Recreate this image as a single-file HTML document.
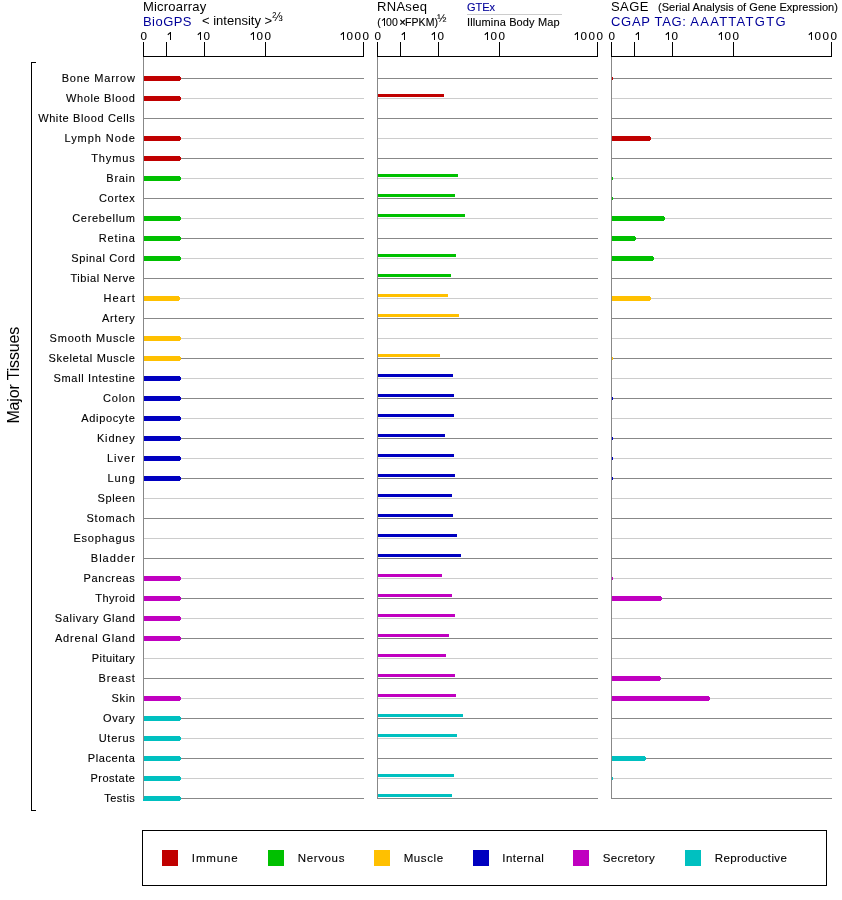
<!DOCTYPE html>
<html><head><meta charset="utf-8"><style>
html,body{margin:0;padding:0;background:#fff;}
body{width:842px;height:900px;overflow:hidden;position:relative;}
svg{position:absolute;left:0;top:0;will-change:transform;}
text{font-family:"Liberation Sans",sans-serif;}
text.s{stroke:currentColor;stroke-width:0.12px;}
</style></head><body>
<svg width="842" height="900" viewBox="0 0 842 900">
<g shape-rendering="crispEdges">
<rect x="143" y="78" width="221" height="1" fill="#888888"/>
<rect x="143" y="98" width="221" height="1" fill="#cccccc"/>
<rect x="143" y="118" width="221" height="1" fill="#888888"/>
<rect x="143" y="138" width="221" height="1" fill="#cccccc"/>
<rect x="143" y="158" width="221" height="1" fill="#888888"/>
<rect x="143" y="178" width="221" height="1" fill="#cccccc"/>
<rect x="143" y="198" width="221" height="1" fill="#888888"/>
<rect x="143" y="218" width="221" height="1" fill="#cccccc"/>
<rect x="143" y="238" width="221" height="1" fill="#888888"/>
<rect x="143" y="258" width="221" height="1" fill="#cccccc"/>
<rect x="143" y="278" width="221" height="1" fill="#888888"/>
<rect x="143" y="298" width="221" height="1" fill="#cccccc"/>
<rect x="143" y="318" width="221" height="1" fill="#888888"/>
<rect x="143" y="338" width="221" height="1" fill="#cccccc"/>
<rect x="143" y="358" width="221" height="1" fill="#888888"/>
<rect x="143" y="378" width="221" height="1" fill="#cccccc"/>
<rect x="143" y="398" width="221" height="1" fill="#888888"/>
<rect x="143" y="418" width="221" height="1" fill="#cccccc"/>
<rect x="143" y="438" width="221" height="1" fill="#888888"/>
<rect x="143" y="458" width="221" height="1" fill="#cccccc"/>
<rect x="143" y="478" width="221" height="1" fill="#888888"/>
<rect x="143" y="498" width="221" height="1" fill="#cccccc"/>
<rect x="143" y="518" width="221" height="1" fill="#888888"/>
<rect x="143" y="538" width="221" height="1" fill="#cccccc"/>
<rect x="143" y="558" width="221" height="1" fill="#888888"/>
<rect x="143" y="578" width="221" height="1" fill="#cccccc"/>
<rect x="143" y="598" width="221" height="1" fill="#888888"/>
<rect x="143" y="618" width="221" height="1" fill="#cccccc"/>
<rect x="143" y="638" width="221" height="1" fill="#888888"/>
<rect x="143" y="658" width="221" height="1" fill="#cccccc"/>
<rect x="143" y="678" width="221" height="1" fill="#888888"/>
<rect x="143" y="698" width="221" height="1" fill="#cccccc"/>
<rect x="143" y="718" width="221" height="1" fill="#888888"/>
<rect x="143" y="738" width="221" height="1" fill="#cccccc"/>
<rect x="143" y="758" width="221" height="1" fill="#888888"/>
<rect x="143" y="778" width="221" height="1" fill="#cccccc"/>
<rect x="143" y="798" width="221" height="1" fill="#888888"/>
<rect x="143" y="56" width="221" height="1" fill="#000"/>
<rect x="143" y="42" width="1" height="14" fill="#000"/>
<rect x="166" y="42" width="1" height="14" fill="#000"/>
<rect x="204" y="42" width="1" height="14" fill="#000"/>
<rect x="265" y="42" width="1" height="14" fill="#000"/>
<rect x="363" y="42" width="1" height="14" fill="#000"/>
<rect x="377" y="78" width="221" height="1" fill="#888888"/>
<rect x="377" y="98" width="221" height="1" fill="#cccccc"/>
<rect x="377" y="118" width="221" height="1" fill="#888888"/>
<rect x="377" y="138" width="221" height="1" fill="#cccccc"/>
<rect x="377" y="158" width="221" height="1" fill="#888888"/>
<rect x="377" y="178" width="221" height="1" fill="#cccccc"/>
<rect x="377" y="198" width="221" height="1" fill="#888888"/>
<rect x="377" y="218" width="221" height="1" fill="#cccccc"/>
<rect x="377" y="238" width="221" height="1" fill="#888888"/>
<rect x="377" y="258" width="221" height="1" fill="#cccccc"/>
<rect x="377" y="278" width="221" height="1" fill="#888888"/>
<rect x="377" y="298" width="221" height="1" fill="#cccccc"/>
<rect x="377" y="318" width="221" height="1" fill="#888888"/>
<rect x="377" y="338" width="221" height="1" fill="#cccccc"/>
<rect x="377" y="358" width="221" height="1" fill="#888888"/>
<rect x="377" y="378" width="221" height="1" fill="#cccccc"/>
<rect x="377" y="398" width="221" height="1" fill="#888888"/>
<rect x="377" y="418" width="221" height="1" fill="#cccccc"/>
<rect x="377" y="438" width="221" height="1" fill="#888888"/>
<rect x="377" y="458" width="221" height="1" fill="#cccccc"/>
<rect x="377" y="478" width="221" height="1" fill="#888888"/>
<rect x="377" y="498" width="221" height="1" fill="#cccccc"/>
<rect x="377" y="518" width="221" height="1" fill="#888888"/>
<rect x="377" y="538" width="221" height="1" fill="#cccccc"/>
<rect x="377" y="558" width="221" height="1" fill="#888888"/>
<rect x="377" y="578" width="221" height="1" fill="#cccccc"/>
<rect x="377" y="598" width="221" height="1" fill="#888888"/>
<rect x="377" y="618" width="221" height="1" fill="#cccccc"/>
<rect x="377" y="638" width="221" height="1" fill="#888888"/>
<rect x="377" y="658" width="221" height="1" fill="#cccccc"/>
<rect x="377" y="678" width="221" height="1" fill="#888888"/>
<rect x="377" y="698" width="221" height="1" fill="#cccccc"/>
<rect x="377" y="718" width="221" height="1" fill="#888888"/>
<rect x="377" y="738" width="221" height="1" fill="#cccccc"/>
<rect x="377" y="758" width="221" height="1" fill="#888888"/>
<rect x="377" y="778" width="221" height="1" fill="#cccccc"/>
<rect x="377" y="798" width="221" height="1" fill="#888888"/>
<rect x="377" y="56" width="221" height="1" fill="#000"/>
<rect x="377" y="42" width="1" height="14" fill="#000"/>
<rect x="400" y="42" width="1" height="14" fill="#000"/>
<rect x="438" y="42" width="1" height="14" fill="#000"/>
<rect x="499" y="42" width="1" height="14" fill="#000"/>
<rect x="597" y="42" width="1" height="14" fill="#000"/>
<rect x="611" y="78" width="221" height="1" fill="#888888"/>
<rect x="611" y="98" width="221" height="1" fill="#cccccc"/>
<rect x="611" y="118" width="221" height="1" fill="#888888"/>
<rect x="611" y="138" width="221" height="1" fill="#cccccc"/>
<rect x="611" y="158" width="221" height="1" fill="#888888"/>
<rect x="611" y="178" width="221" height="1" fill="#cccccc"/>
<rect x="611" y="198" width="221" height="1" fill="#888888"/>
<rect x="611" y="218" width="221" height="1" fill="#cccccc"/>
<rect x="611" y="238" width="221" height="1" fill="#888888"/>
<rect x="611" y="258" width="221" height="1" fill="#cccccc"/>
<rect x="611" y="278" width="221" height="1" fill="#888888"/>
<rect x="611" y="298" width="221" height="1" fill="#cccccc"/>
<rect x="611" y="318" width="221" height="1" fill="#888888"/>
<rect x="611" y="338" width="221" height="1" fill="#cccccc"/>
<rect x="611" y="358" width="221" height="1" fill="#888888"/>
<rect x="611" y="378" width="221" height="1" fill="#cccccc"/>
<rect x="611" y="398" width="221" height="1" fill="#888888"/>
<rect x="611" y="418" width="221" height="1" fill="#cccccc"/>
<rect x="611" y="438" width="221" height="1" fill="#888888"/>
<rect x="611" y="458" width="221" height="1" fill="#cccccc"/>
<rect x="611" y="478" width="221" height="1" fill="#888888"/>
<rect x="611" y="498" width="221" height="1" fill="#cccccc"/>
<rect x="611" y="518" width="221" height="1" fill="#888888"/>
<rect x="611" y="538" width="221" height="1" fill="#cccccc"/>
<rect x="611" y="558" width="221" height="1" fill="#888888"/>
<rect x="611" y="578" width="221" height="1" fill="#cccccc"/>
<rect x="611" y="598" width="221" height="1" fill="#888888"/>
<rect x="611" y="618" width="221" height="1" fill="#cccccc"/>
<rect x="611" y="638" width="221" height="1" fill="#888888"/>
<rect x="611" y="658" width="221" height="1" fill="#cccccc"/>
<rect x="611" y="678" width="221" height="1" fill="#888888"/>
<rect x="611" y="698" width="221" height="1" fill="#cccccc"/>
<rect x="611" y="718" width="221" height="1" fill="#888888"/>
<rect x="611" y="738" width="221" height="1" fill="#cccccc"/>
<rect x="611" y="758" width="221" height="1" fill="#888888"/>
<rect x="611" y="778" width="221" height="1" fill="#cccccc"/>
<rect x="611" y="798" width="221" height="1" fill="#888888"/>
<rect x="611" y="56" width="221" height="1" fill="#000"/>
<rect x="611" y="42" width="1" height="14" fill="#000"/>
<rect x="634" y="42" width="1" height="14" fill="#000"/>
<rect x="672" y="42" width="1" height="14" fill="#000"/>
<rect x="733" y="42" width="1" height="14" fill="#000"/>
<rect x="831" y="42" width="1" height="14" fill="#000"/>
<rect x="143" y="76" width="37" height="5" fill="#C00000"/>
<rect x="180" y="77" width="1" height="3" fill="#C00000"/>
<rect x="143" y="96" width="37" height="5" fill="#C00000"/>
<rect x="180" y="97" width="1" height="3" fill="#C00000"/>
<rect x="143" y="136" width="37" height="5" fill="#C00000"/>
<rect x="180" y="137" width="1" height="3" fill="#C00000"/>
<rect x="143" y="156" width="37" height="5" fill="#C00000"/>
<rect x="180" y="157" width="1" height="3" fill="#C00000"/>
<rect x="143" y="176" width="37" height="5" fill="#00C000"/>
<rect x="180" y="177" width="1" height="3" fill="#00C000"/>
<rect x="143" y="216" width="37" height="5" fill="#00C000"/>
<rect x="180" y="217" width="1" height="3" fill="#00C000"/>
<rect x="143" y="236" width="37" height="5" fill="#00C000"/>
<rect x="180" y="237" width="1" height="3" fill="#00C000"/>
<rect x="143" y="256" width="37" height="5" fill="#00C000"/>
<rect x="180" y="257" width="1" height="3" fill="#00C000"/>
<rect x="143" y="296" width="36" height="5" fill="#FFC000"/>
<rect x="179" y="297" width="1" height="3" fill="#FFC000"/>
<rect x="143" y="336" width="37" height="5" fill="#FFC000"/>
<rect x="180" y="337" width="1" height="3" fill="#FFC000"/>
<rect x="143" y="356" width="37" height="5" fill="#FFC000"/>
<rect x="180" y="357" width="1" height="3" fill="#FFC000"/>
<rect x="143" y="376" width="37" height="5" fill="#0000C0"/>
<rect x="180" y="377" width="1" height="3" fill="#0000C0"/>
<rect x="143" y="396" width="37" height="5" fill="#0000C0"/>
<rect x="180" y="397" width="1" height="3" fill="#0000C0"/>
<rect x="143" y="416" width="37" height="5" fill="#0000C0"/>
<rect x="180" y="417" width="1" height="3" fill="#0000C0"/>
<rect x="143" y="436" width="37" height="5" fill="#0000C0"/>
<rect x="180" y="437" width="1" height="3" fill="#0000C0"/>
<rect x="143" y="456" width="37" height="5" fill="#0000C0"/>
<rect x="180" y="457" width="1" height="3" fill="#0000C0"/>
<rect x="143" y="476" width="37" height="5" fill="#0000C0"/>
<rect x="180" y="477" width="1" height="3" fill="#0000C0"/>
<rect x="143" y="576" width="37" height="5" fill="#C000C0"/>
<rect x="180" y="577" width="1" height="3" fill="#C000C0"/>
<rect x="143" y="596" width="37" height="5" fill="#C000C0"/>
<rect x="180" y="597" width="1" height="3" fill="#C000C0"/>
<rect x="143" y="616" width="37" height="5" fill="#C000C0"/>
<rect x="180" y="617" width="1" height="3" fill="#C000C0"/>
<rect x="143" y="636" width="37" height="5" fill="#C000C0"/>
<rect x="180" y="637" width="1" height="3" fill="#C000C0"/>
<rect x="143" y="696" width="37" height="5" fill="#C000C0"/>
<rect x="180" y="697" width="1" height="3" fill="#C000C0"/>
<rect x="143" y="716" width="37" height="5" fill="#00C0C0"/>
<rect x="180" y="717" width="1" height="3" fill="#00C0C0"/>
<rect x="143" y="736" width="37" height="5" fill="#00C0C0"/>
<rect x="180" y="737" width="1" height="3" fill="#00C0C0"/>
<rect x="143" y="756" width="37" height="5" fill="#00C0C0"/>
<rect x="180" y="757" width="1" height="3" fill="#00C0C0"/>
<rect x="143" y="776" width="37" height="5" fill="#00C0C0"/>
<rect x="180" y="777" width="1" height="3" fill="#00C0C0"/>
<rect x="143" y="796" width="37" height="5" fill="#00C0C0"/>
<rect x="180" y="797" width="1" height="3" fill="#00C0C0"/>
<rect x="377" y="94" width="67" height="3" fill="#C00000"/>
<rect x="377" y="174" width="81" height="3" fill="#00C000"/>
<rect x="377" y="194" width="78" height="3" fill="#00C000"/>
<rect x="377" y="214" width="88" height="3" fill="#00C000"/>
<rect x="377" y="254" width="79" height="3" fill="#00C000"/>
<rect x="377" y="274" width="74" height="3" fill="#00C000"/>
<rect x="377" y="294" width="71" height="3" fill="#FFC000"/>
<rect x="377" y="314" width="82" height="3" fill="#FFC000"/>
<rect x="377" y="354" width="63" height="3" fill="#FFC000"/>
<rect x="377" y="374" width="76" height="3" fill="#0000C0"/>
<rect x="377" y="394" width="77" height="3" fill="#0000C0"/>
<rect x="377" y="414" width="77" height="3" fill="#0000C0"/>
<rect x="377" y="434" width="68" height="3" fill="#0000C0"/>
<rect x="377" y="454" width="77" height="3" fill="#0000C0"/>
<rect x="377" y="474" width="78" height="3" fill="#0000C0"/>
<rect x="377" y="494" width="75" height="3" fill="#0000C0"/>
<rect x="377" y="514" width="76" height="3" fill="#0000C0"/>
<rect x="377" y="534" width="80" height="3" fill="#0000C0"/>
<rect x="377" y="554" width="84" height="3" fill="#0000C0"/>
<rect x="377" y="574" width="65" height="3" fill="#C000C0"/>
<rect x="377" y="594" width="75" height="3" fill="#C000C0"/>
<rect x="377" y="614" width="78" height="3" fill="#C000C0"/>
<rect x="377" y="634" width="72" height="3" fill="#C000C0"/>
<rect x="377" y="654" width="69" height="3" fill="#C000C0"/>
<rect x="377" y="674" width="78" height="3" fill="#C000C0"/>
<rect x="377" y="694" width="79" height="3" fill="#C000C0"/>
<rect x="377" y="714" width="86" height="3" fill="#00C0C0"/>
<rect x="377" y="734" width="80" height="3" fill="#00C0C0"/>
<rect x="377" y="774" width="77" height="3" fill="#00C0C0"/>
<rect x="377" y="794" width="75" height="3" fill="#00C0C0"/>
<rect x="612" y="77" width="1" height="3" fill="#C00000"/>
<rect x="611" y="136" width="39" height="5" fill="#C00000"/>
<rect x="650" y="137" width="1" height="3" fill="#C00000"/>
<rect x="612" y="177" width="1" height="3" fill="#00C000"/>
<rect x="612" y="197" width="1" height="3" fill="#00C000"/>
<rect x="611" y="216" width="53" height="5" fill="#00C000"/>
<rect x="664" y="217" width="1" height="3" fill="#00C000"/>
<rect x="611" y="236" width="24" height="5" fill="#00C000"/>
<rect x="635" y="237" width="1" height="3" fill="#00C000"/>
<rect x="611" y="256" width="42" height="5" fill="#00C000"/>
<rect x="653" y="257" width="1" height="3" fill="#00C000"/>
<rect x="611" y="296" width="39" height="5" fill="#FFC000"/>
<rect x="650" y="297" width="1" height="3" fill="#FFC000"/>
<rect x="612" y="357" width="1" height="3" fill="#FFC000"/>
<rect x="612" y="397" width="1" height="3" fill="#0000C0"/>
<rect x="612" y="437" width="1" height="3" fill="#0000C0"/>
<rect x="612" y="457" width="1" height="3" fill="#0000C0"/>
<rect x="612" y="477" width="1" height="3" fill="#0000C0"/>
<rect x="612" y="577" width="1" height="3" fill="#C000C0"/>
<rect x="611" y="596" width="50" height="5" fill="#C000C0"/>
<rect x="661" y="597" width="1" height="3" fill="#C000C0"/>
<rect x="611" y="676" width="49" height="5" fill="#C000C0"/>
<rect x="660" y="677" width="1" height="3" fill="#C000C0"/>
<rect x="611" y="696" width="98" height="5" fill="#C000C0"/>
<rect x="709" y="697" width="1" height="3" fill="#C000C0"/>
<rect x="611" y="756" width="34" height="5" fill="#00C0C0"/>
<rect x="645" y="757" width="1" height="3" fill="#00C0C0"/>
<rect x="612" y="777" width="1" height="3" fill="#00C0C0"/>
<rect x="143" y="57" width="1" height="742" fill="#888888"/>
<rect x="377" y="57" width="1" height="742" fill="#888888"/>
<rect x="611" y="57" width="1" height="742" fill="#888888"/>
<rect x="31" y="62" width="1" height="749" fill="#000"/>
<rect x="31" y="62" width="5" height="1" fill="#000"/>
<rect x="31" y="810" width="5" height="1" fill="#000"/>
<rect x="142.5" y="830.5" width="684" height="55" fill="none" stroke="#000" stroke-width="1"/>
<rect x="162" y="850" width="16" height="16" fill="#C00000"/>
<rect x="268" y="850" width="16" height="16" fill="#00C000"/>
<rect x="374" y="850" width="16" height="16" fill="#FFC000"/>
<rect x="473" y="850" width="16" height="16" fill="#0000C0"/>
<rect x="573" y="850" width="16" height="16" fill="#C000C0"/>
<rect x="685" y="850" width="16" height="16" fill="#00C0C0"/>
<rect x="467" y="14" width="95" height="1" fill="#cccccc"/>
<rect x="384" y="18" width="1" height="8" fill="#000"/>
<rect x="170" y="32" width="1" height="8" fill="#000"/>
<rect x="200" y="32" width="1" height="8" fill="#000"/>
<rect x="253" y="32" width="1" height="8" fill="#000"/>
<rect x="343" y="32" width="1" height="8" fill="#000"/>
<rect x="404" y="32" width="1" height="8" fill="#000"/>
<rect x="434" y="32" width="1" height="8" fill="#000"/>
<rect x="487" y="32" width="1" height="8" fill="#000"/>
<rect x="577" y="32" width="1" height="8" fill="#000"/>
<rect x="638" y="32" width="1" height="8" fill="#000"/>
<rect x="668" y="32" width="1" height="8" fill="#000"/>
<rect x="721" y="32" width="1" height="8" fill="#000"/>
<rect x="811" y="32" width="1" height="8" fill="#000"/>
</g>
<g>
<path d="M384.6,18.4 L382.0,20.6" stroke="#000" stroke-width="1.05" fill="none"/>
<path d="M170.6,32.4 L167.8,34.7" stroke="#000" stroke-width="1.1" fill="none"/>
<path d="M200.6,32.4 L197.8,34.7" stroke="#000" stroke-width="1.1" fill="none"/>
<path d="M253.6,32.4 L250.8,34.7" stroke="#000" stroke-width="1.1" fill="none"/>
<path d="M343.6,32.4 L340.8,34.7" stroke="#000" stroke-width="1.1" fill="none"/>
<path d="M404.6,32.4 L401.8,34.7" stroke="#000" stroke-width="1.1" fill="none"/>
<path d="M434.6,32.4 L431.8,34.7" stroke="#000" stroke-width="1.1" fill="none"/>
<path d="M487.6,32.4 L484.8,34.7" stroke="#000" stroke-width="1.1" fill="none"/>
<path d="M577.6,32.4 L574.8,34.7" stroke="#000" stroke-width="1.1" fill="none"/>
<path d="M638.6,32.4 L635.8,34.7" stroke="#000" stroke-width="1.1" fill="none"/>
<path d="M668.6,32.4 L665.8,34.7" stroke="#000" stroke-width="1.1" fill="none"/>
<path d="M721.6,32.4 L718.8,34.7" stroke="#000" stroke-width="1.1" fill="none"/>
<path d="M811.6,32.4 L808.8,34.7" stroke="#000" stroke-width="1.1" fill="none"/>
</g>
<g>
<text class="s" x="135.62" y="82" font-size="11" fill="#000" color="#000" text-anchor="end" letter-spacing="0.77" >Bone Marrow</text>
<text class="s" x="135.503" y="102" font-size="11" fill="#000" color="#000" text-anchor="end" letter-spacing="0.653" >Whole Blood</text>
<text class="s" x="135.468" y="122" font-size="11" fill="#000" color="#000" text-anchor="end" letter-spacing="0.618" >White Blood Cells</text>
<text class="s" x="135.773" y="142" font-size="11" fill="#000" color="#000" text-anchor="end" letter-spacing="0.923" >Lymph Node</text>
<text class="s" x="135.761" y="162" font-size="11" fill="#000" color="#000" text-anchor="end" letter-spacing="0.911" >Thymus</text>
<text class="s" x="135.553" y="182" font-size="11" fill="#000" color="#000" text-anchor="end" letter-spacing="0.703" >Brain</text>
<text class="s" x="135.549" y="202" font-size="11" fill="#000" color="#000" text-anchor="end" letter-spacing="0.699" >Cortex</text>
<text class="s" x="135.564" y="222" font-size="11" fill="#000" color="#000" text-anchor="end" letter-spacing="0.714" >Cerebellum</text>
<text class="s" x="135.722" y="242" font-size="11" fill="#000" color="#000" text-anchor="end" letter-spacing="0.872" >Retina</text>
<text class="s" x="135.453" y="262" font-size="11" fill="#000" color="#000" text-anchor="end" letter-spacing="0.603" >Spinal Cord</text>
<text class="s" x="135.41" y="282" font-size="11" fill="#000" color="#000" text-anchor="end" letter-spacing="0.56" >Tibial Nerve</text>
<text class="s" x="135.967" y="302" font-size="11" fill="#000" color="#000" text-anchor="end" letter-spacing="1.117" >Heart</text>
<text class="s" x="135.566" y="322" font-size="11" fill="#000" color="#000" text-anchor="end" letter-spacing="0.716" >Artery</text>
<text class="s" x="135.641" y="342" font-size="11" fill="#000" color="#000" text-anchor="end" letter-spacing="0.791" >Smooth Muscle</text>
<text class="s" x="135.516" y="362" font-size="11" fill="#000" color="#000" text-anchor="end" letter-spacing="0.666" >Skeletal Muscle</text>
<text class="s" x="135.502" y="382" font-size="11" fill="#000" color="#000" text-anchor="end" letter-spacing="0.652" >Small Intestine</text>
<text class="s" x="135.598" y="402" font-size="11" fill="#000" color="#000" text-anchor="end" letter-spacing="0.748" >Colon</text>
<text class="s" x="135.496" y="422" font-size="11" fill="#000" color="#000" text-anchor="end" letter-spacing="0.646" >Adipocyte</text>
<text class="s" x="135.711" y="442" font-size="11" fill="#000" color="#000" text-anchor="end" letter-spacing="0.861" >Kidney</text>
<text class="s" x="135.875" y="462" font-size="11" fill="#000" color="#000" text-anchor="end" letter-spacing="1.025" >Liver</text>
<text class="s" x="135.845" y="482" font-size="11" fill="#000" color="#000" text-anchor="end" letter-spacing="0.995" >Lung</text>
<text class="s" x="135.46" y="502" font-size="11" fill="#000" color="#000" text-anchor="end" letter-spacing="0.61" >Spleen</text>
<text class="s" x="135.678" y="522" font-size="11" fill="#000" color="#000" text-anchor="end" letter-spacing="0.828" >Stomach</text>
<text class="s" x="135.648" y="542" font-size="11" fill="#000" color="#000" text-anchor="end" letter-spacing="0.798" >Esophagus</text>
<text class="s" x="135.874" y="562" font-size="11" fill="#000" color="#000" text-anchor="end" letter-spacing="1.024" >Bladder</text>
<text class="s" x="135.541" y="582" font-size="11" fill="#000" color="#000" text-anchor="end" letter-spacing="0.691" >Pancreas</text>
<text class="s" x="135.339" y="602" font-size="11" fill="#000" color="#000" text-anchor="end" letter-spacing="0.489" >Thyroid</text>
<text class="s" x="135.5" y="622" font-size="11" fill="#000" color="#000" text-anchor="end" letter-spacing="0.65" >Salivary Gland</text>
<text class="s" x="135.646" y="642" font-size="11" fill="#000" color="#000" text-anchor="end" letter-spacing="0.796" >Adrenal Gland</text>
<text class="s" x="135.257" y="662" font-size="11" fill="#000" color="#000" text-anchor="end" letter-spacing="0.407" >Pituitary</text>
<text class="s" x="135.751" y="682" font-size="11" fill="#000" color="#000" text-anchor="end" letter-spacing="0.901" >Breast</text>
<text class="s" x="135.479" y="702" font-size="11" fill="#000" color="#000" text-anchor="end" letter-spacing="0.629" >Skin</text>
<text class="s" x="135.462" y="722" font-size="11" fill="#000" color="#000" text-anchor="end" letter-spacing="0.612" >Ovary</text>
<text class="s" x="135.606" y="742" font-size="11" fill="#000" color="#000" text-anchor="end" letter-spacing="0.756" >Uterus</text>
<text class="s" x="135.469" y="762" font-size="11" fill="#000" color="#000" text-anchor="end" letter-spacing="0.619" >Placenta</text>
<text class="s" x="135.35" y="782" font-size="11" fill="#000" color="#000" text-anchor="end" letter-spacing="0.5" >Prostate</text>
<text class="s" x="135.366" y="802" font-size="11" fill="#000" color="#000" text-anchor="end" letter-spacing="0.516" >Testis</text>
<text class="s" x="191.799" y="862.2" font-size="11.5" fill="#000" color="#000" text-anchor="start" letter-spacing="0.884" >Immune</text>
<text class="s" x="297.753" y="862.2" font-size="11.5" fill="#000" color="#000" text-anchor="start" letter-spacing="0.638" >Nervous</text>
<text class="s" x="403.692" y="862.2" font-size="11.5" fill="#000" color="#000" text-anchor="start" letter-spacing="0.583" >Muscle</text>
<text class="s" x="502.289" y="862.2" font-size="11.5" fill="#000" color="#000" text-anchor="start" letter-spacing="0.465" >Internal</text>
<text class="s" x="602.837" y="862.2" font-size="11.5" fill="#000" color="#000" text-anchor="start" letter-spacing="0.329" >Secretory</text>
<text class="s" x="714.692" y="862.2" font-size="11.5" fill="#000" color="#000" text-anchor="start" letter-spacing="0.407" >Reproductive</text>
<text x="143" y="11" font-size="13" fill="#000" color="#000" text-anchor="start" letter-spacing="0.2" >Microarray</text>
<text x="143" y="26" font-size="13" fill="#000099" color="#000099" text-anchor="start" letter-spacing="0.45" >BioGPS</text>
<text x="202" y="25" font-size="13" fill="#000" color="#000" text-anchor="start" letter-spacing="0" >&lt; intensity &gt;</text>
<text x="272.2" y="20.8" font-size="12.5" fill="#000" color="#000" text-anchor="start" letter-spacing="0" >&#8532;</text>
<text x="377" y="11" font-size="13" fill="#000" color="#000" text-anchor="start" letter-spacing="0.3" >RNAseq</text>
<text class="s" x="377.2 386.1 392.1 399.4 405.0" y="26" font-size="10.5" fill="#000" color="#000" letter-spacing="0.1">(00<tspan style="stroke-width:0.4px">&#215;</tspan>FPKM)</text>
<text class="s" x="437.2" y="22.2" font-size="11" fill="#000" color="#000" text-anchor="start" letter-spacing="0" >&#189;</text>
<text class="s" x="467" y="11" font-size="11" fill="#000099" color="#000099" text-anchor="start" letter-spacing="0" >GTEx</text>
<text class="s" x="467" y="26" font-size="11" fill="#000" color="#000" text-anchor="start" letter-spacing="0.13" >Illumina Body Map</text>
<text x="611" y="11" font-size="13" fill="#000" color="#000" text-anchor="start" letter-spacing="0.4" >SAGE</text>
<text class="s" x="658" y="11" font-size="11" fill="#000" color="#000" text-anchor="start" letter-spacing="0.04" >(Serial Analysis of Gene Expression)</text>
<text x="611" y="26" font-size="13" fill="#000099" color="#000099" text-anchor="start" letter-spacing="0.7" >CGAP TAG:</text>
<text x="690.3" y="26" font-size="13" fill="#000099" color="#000099" text-anchor="start" letter-spacing="1.27" >AAATTATGTG</text>
<text class="s" x="140.5 203.5 256.5 264.5 346.5 354.5 362.5 374.5 437.5 490.5 498.5 580.5 588.5 596.5 608.5 671.5 724.5 732.5 814.5 822.5 830.5" y="40" font-size="11.6" fill="#000" color="#000">000000000000000000000</text>
<text x="0" y="0" font-size="16" letter-spacing="-0.15" transform="translate(19,423.6) rotate(-90)">Major Tissues</text>
</g>
</svg>
</body></html>
